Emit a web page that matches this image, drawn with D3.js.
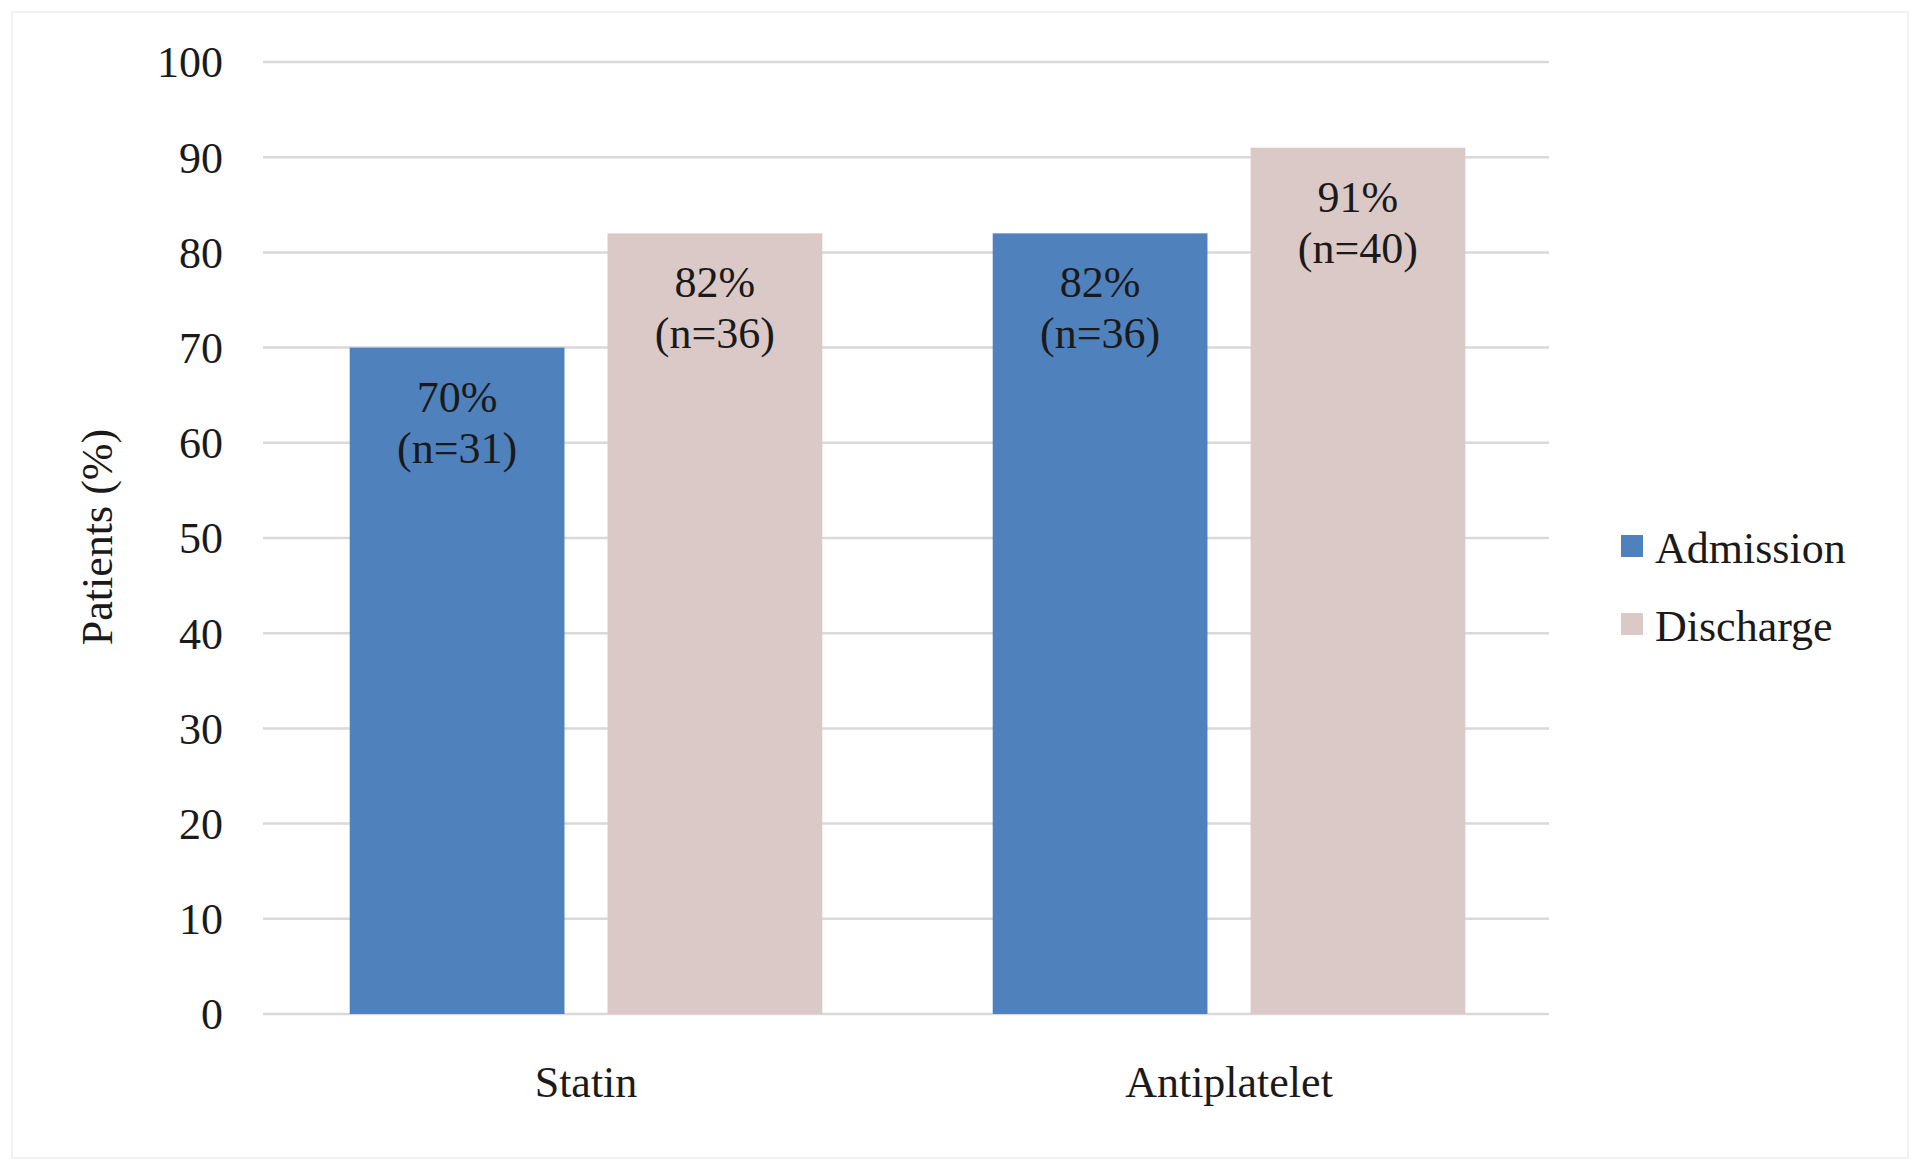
<!DOCTYPE html>
<html>
<head>
<meta charset="utf-8">
<script src="https://cdn.jsdelivr.net/npm/d3@7"></script>
<style>
  html, body { margin: 0; padding: 0; background: #ffffff; }
  svg { display: block; }
  text { font-family: "Liberation Serif", "Times New Roman", serif; fill: #1a1a1a; }
</style>
</head>
<body>
<svg id="chart" width="1920" height="1170"></svg>
<script>
// ---- data ----
const categories = ["Statin", "Antiplatelet"];
const seriesNames = ["Admission", "Discharge"];
const admissionValues = [70, 82];
const dischargeValues = [82, 91];
const admissionCounts = [31, 36];
const dischargeCounts = [36, 40];
const yTicks = [0, 10, 20, 30, 40, 50, 60, 70, 80, 90, 100];
const yTitle = "Patients (%)";
const colors = ["#4F81BD", "#DBC9C7"];

const seriesValues = [admissionValues, dischargeValues];
const seriesCounts = [admissionCounts, dischargeCounts];

// ---- layout ----
const svg = d3.select("#chart");
const plot = { left: 263, right: 1549, top: 62, bottom: 1014 };
const fontSize = 44;

// outer frame
svg.append("rect")
  .attr("x", 12).attr("y", 12)
  .attr("width", 1908 - 12).attr("height", 1158 - 12)
  .attr("fill", "#ffffff")
  .attr("stroke", "#F0F0F5")
  .attr("stroke-width", 2);

const y = d3.scaleLinear().domain([0, 100]).range([plot.bottom, plot.top]);

const pOuter = 0.265;
const x0 = d3.scaleBand()
  .domain(categories)
  .range([plot.left + 1.5, plot.right + 1.5])
  .paddingInner(pOuter)
  .paddingOuter(pOuter / 2);

const x1 = d3.scaleBand()
  .domain(seriesNames)
  .range([0, x0.bandwidth()])
  .paddingInner(0.167)
  .paddingOuter(0);

// gridlines
const grid = svg.append("g");
grid.selectAll("line")
  .data(yTicks)
  .join("line")
  .attr("x1", plot.left).attr("x2", plot.right)
  .attr("y1", d => y(d)).attr("y2", d => y(d))
  .attr("stroke", "#D9D9D9")
  .attr("stroke-width", 2.5);

// y axis labels
const yAxis = d3.axisLeft(y).tickValues(yTicks).tickSize(0).tickPadding(0);
const yg = svg.append("g")
  .attr("transform", `translate(${plot.left - 40},0)`)
  .call(yAxis);
yg.select(".domain").remove();
yg.selectAll("text")
  .attr("font-size", fontSize)
  .attr("font-family", "Liberation Serif, Times New Roman, serif")
  .attr("fill", "#1a1a1a")
  .attr("dy", "0.34em");

// bars
const groups = svg.append("g")
  .selectAll("g")
  .data(categories)
  .join("g")
  .attr("transform", c => `translate(${x0(c)},0)`);

groups.each(function(c, ci) {
  const g = d3.select(this);
  seriesNames.forEach((s, si) => {
    const v = seriesValues[si][ci];
    const n = seriesCounts[si][ci];
    const bx = x1(s);
    const bw = x1.bandwidth();
    g.append("rect")
      .attr("x", bx)
      .attr("y", y(v))
      .attr("width", bw)
      .attr("height", y(0) - y(v))
      .attr("fill", colors[si]);
    const lbl = g.append("text")
      .attr("text-anchor", "middle")
      .attr("font-size", fontSize)
      .attr("x", bx + bw / 2)
      .attr("y", y(v) + 64);
    lbl.append("tspan").attr("x", bx + bw / 2).text(v + "%");
    lbl.append("tspan").attr("x", bx + bw / 2).attr("dy", 51).text("(n=" + n + ")");
  });
});

// x axis category labels
const xAxis = d3.axisBottom(x0).tickSize(0).tickPadding(0);
const xg = svg.append("g")
  .attr("transform", `translate(0,${plot.bottom})`)
  .call(xAxis);
xg.select(".domain").remove();
xg.selectAll("text")
  .attr("font-size", fontSize)
  .attr("font-family", "Liberation Serif, Times New Roman, serif")
  .attr("fill", "#1a1a1a")
  .attr("dy", null)
  .attr("y", 83);

// y title
svg.append("text")
  .attr("transform", `translate(112,537) rotate(-90)`)
  .attr("text-anchor", "middle")
  .attr("font-size", fontSize)
  .text(yTitle);

// legend
const legend = svg.append("g");
const legendY = [546, 624];
seriesNames.forEach((s, i) => {
  legend.append("rect")
    .attr("x", 1621).attr("y", legendY[i] - 11)
    .attr("width", 22).attr("height", 22)
    .attr("fill", colors[i]);
  legend.append("text")
    .attr("x", 1655).attr("y", legendY[i] + 17)
    .attr("font-size", fontSize)
    .text(s);
});
</script>
</body>
</html>
